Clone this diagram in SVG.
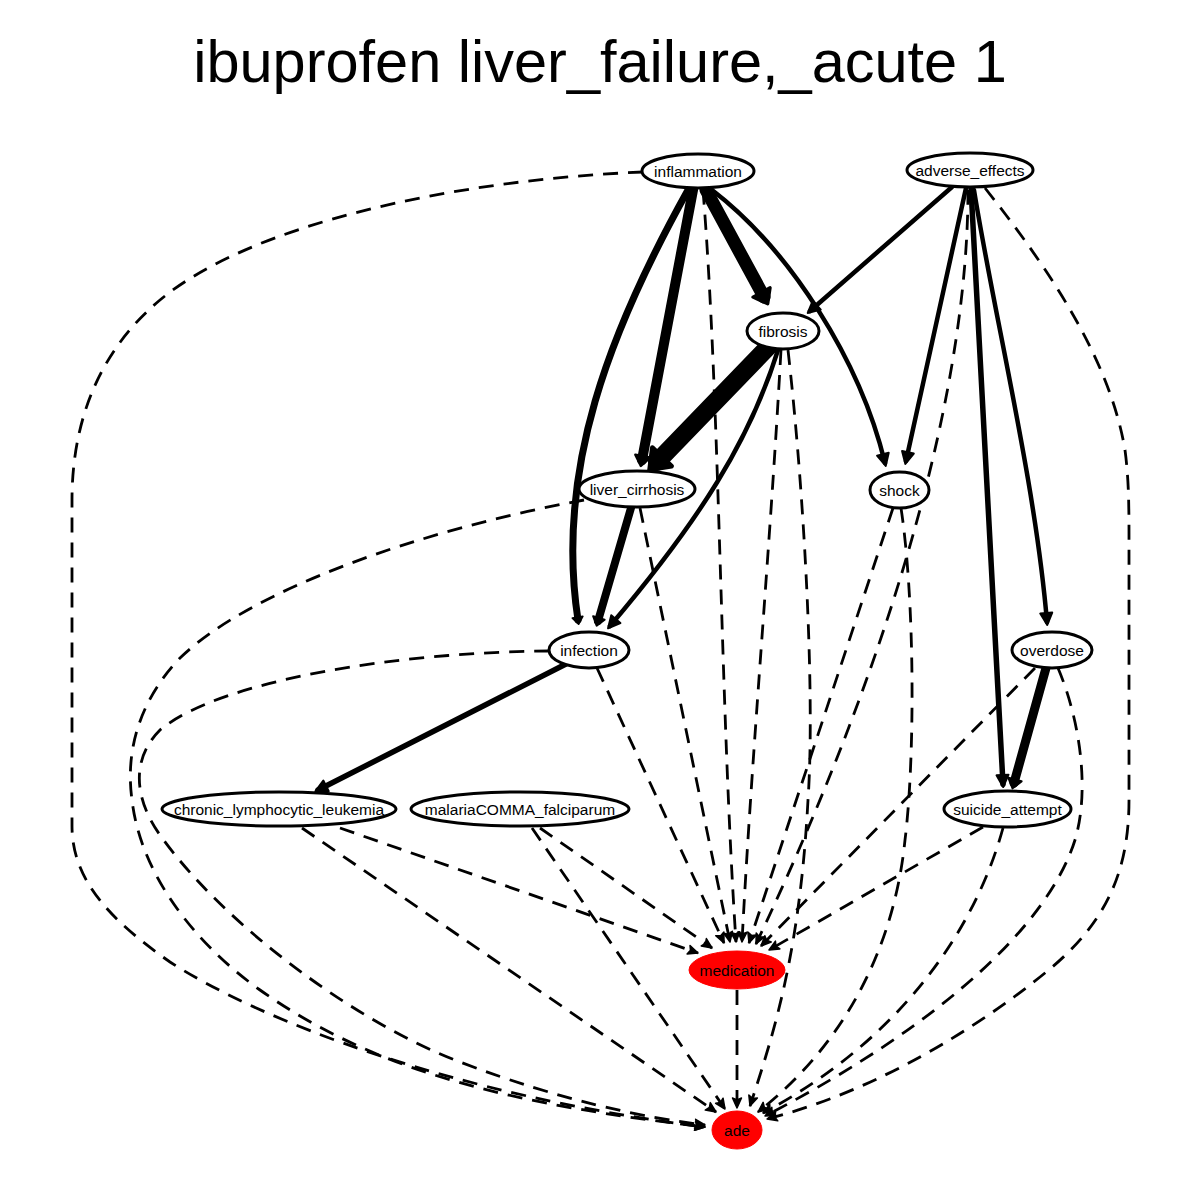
<svg xmlns="http://www.w3.org/2000/svg" width="1200" height="1200" viewBox="0 0 1200 1200">
<style>
text{font-family:"Liberation Sans",Arial,sans-serif;fill:#000;text-anchor:middle}
.lbl{font-size:15.5px}
.title{font-size:59.5px}
.n ellipse{fill:#fff;stroke:#000;stroke-width:3}
.r ellipse{fill:#f00;stroke:#f00;stroke-width:1}
.s{fill:none;stroke:#000;stroke-linecap:round;stroke-linejoin:round}
.d{fill:none;stroke:#000;stroke-width:2.8;stroke-dasharray:15 10}
</style>
<defs>
<marker id="ad" markerUnits="userSpaceOnUse" markerWidth="14" markerHeight="14" refX="10" refY="5" orient="auto" overflow="visible"><path d="M0,0.5 L10,5 L0,9.5 L2,5 z" fill="#000" stroke="#000" stroke-width="1.5" stroke-linejoin="round"/></marker>
<marker id="am" markerUnits="userSpaceOnUse" markerWidth="16" markerHeight="16" refX="9" refY="6" orient="auto" overflow="visible"><path d="M0,0 L12,6 L0,12 z" fill="#000" stroke="#000" stroke-width="2" stroke-linejoin="round"/></marker>
<marker id="at" markerUnits="strokeWidth" markerWidth="3" markerHeight="3" refX="0.4" refY="1" orient="auto" overflow="visible"><path d="M0,0.25 L1,1 L0,1.75 z" fill="#000" stroke="#000" stroke-width="0.25" stroke-linejoin="round"/></marker>
</defs>
<text class="title" x="600" y="82">ibuprofen liver_failure,_acute 1</text>
<g id="connectors">
<path class="d" marker-end="url(#ad)" d="M643,172 C450,180 250,225 160,300 C100,350 72,420 72,500 L72,826 C72,880 110,920 170,962 C260,1020 450,1095 705,1127"/>
<path class="d" marker-end="url(#ad)" d="M584,500 C420,530 250,590 180,658 C140,700 125,750 132,800 C140,870 190,940 260,990 C380,1075 520,1105 705,1127"/>
<path class="d" marker-end="url(#ad)" d="M549,651 C400,652 220,680 160,730 C130,760 135,800 160,835 C220,920 350,1020 460,1062 C560,1100 640,1117 705,1125"/>
<path class="d" marker-end="url(#ad)" d="M985,188 C1050,270 1110,360 1125,450 C1129,480 1129,510 1129,540 L1129,800 C1129,880 1100,930 1040,977 C980,1025 880,1090 767,1119"/>
<path class="d" marker-end="url(#ad)" d="M1058,668 C1080,720 1090,790 1075,840 C1050,920 950,1020 765,1116"/>
<path class="d" marker-end="url(#ad)" d="M1003,828 C975,930 900,1040 763,1113"/>
<path class="d" marker-end="url(#ad)" d="M901,508 C915,600 915,760 905,840 C895,940 850,1040 758,1112"/>
<path class="d" marker-end="url(#ad)" d="M788,350 C805,500 815,700 808,800 C800,950 775,1030 750,1106"/>
<path class="d" marker-end="url(#ad)" d="M302,828 L716,1112"/>
<path class="d" marker-end="url(#ad)" d="M532,828 L725,1109"/>
<path class="d" marker-end="url(#ad)" d="M737,990 L737,1108"/>
<path class="d" marker-end="url(#ad)" d="M340,828 L698,953"/>
<path class="d" marker-end="url(#ad)" d="M540,828 L712,948"/>
<path class="d" marker-end="url(#ad)" d="M597,668 L724,943"/>
<path class="d" marker-end="url(#ad)" d="M640,508 L730,942"/>
<path class="d" marker-end="url(#ad)" d="M703,190 C720,400 720,700 736,942"/>
<path class="d" marker-end="url(#ad)" d="M781,350 C770,550 752,750 742,942"/>
<path class="d" marker-end="url(#ad)" d="M893,508 L749,943"/>
<path class="d" marker-end="url(#ad)" d="M968,190 C968,380 900,640 756,944"/>
<path class="d" marker-end="url(#ad)" d="M1035,668 L761,946"/>
<path class="d" marker-end="url(#ad)" d="M983,827 L769,950"/>
<path class="s" stroke-width="13" marker-end="url(#at)" d="M706,190 L764,297"/>
<path class="s" stroke-width="10" marker-end="url(#at)" d="M693,190 L642,460"/>
<path class="s" stroke-width="7" marker-end="url(#at)" d="M688,190 C610,330 555,470 578,620"/>
<path class="s" stroke-width="4.5" marker-end="url(#am)" d="M712,190 C790,250 860,360 885,463"/>
<path class="s" stroke-width="18" marker-end="url(#at)" d="M770,345 L657,462"/>
<path class="s" stroke-width="4.5" marker-end="url(#am)" d="M778,350 C750,440 700,520 610,626"/>
<path class="s" stroke-width="8" marker-end="url(#at)" d="M631,508 L598,621"/>
<path class="s" stroke-width="4.5" marker-end="url(#am)" d="M952,187 L810,311"/>
<path class="s" stroke-width="4.5" marker-end="url(#am)" d="M966,188 L906,461"/>
<path class="s" stroke-width="5.5" marker-end="url(#am)" d="M971,188 L1003,784"/>
<path class="s" stroke-width="4.5" marker-end="url(#am)" d="M974,190 C995,320 1035,480 1047,622"/>
<path class="s" stroke-width="9" marker-end="url(#at)" d="M1046,668 L1014,783"/>
<path class="s" stroke-width="5.5" marker-end="url(#am)" d="M566,664 L318,790"/>
</g>
<g id="node-inflammation" class="n"><ellipse cx="698" cy="171" rx="56" ry="17"/><text class="lbl" x="698" y="176.5">inflammation</text></g>
<g id="node-adverse_effects" class="n"><ellipse cx="970" cy="170" rx="63" ry="17"/><text class="lbl" x="970" y="175.5">adverse_effects</text></g>
<g id="node-fibrosis" class="n"><ellipse cx="783" cy="331" rx="36" ry="18"/><text class="lbl" x="783" y="336.5">fibrosis</text></g>
<g id="node-liver_cirrhosis" class="n"><ellipse cx="637" cy="489" rx="58" ry="18"/><text class="lbl" x="637" y="494.5">liver_cirrhosis</text></g>
<g id="node-shock" class="n"><ellipse cx="899.5" cy="490" rx="29.5" ry="18"/><text class="lbl" x="899.5" y="495.5">shock</text></g>
<g id="node-infection" class="n"><ellipse cx="589" cy="650" rx="40" ry="18"/><text class="lbl" x="589" y="655.5">infection</text></g>
<g id="node-overdose" class="n"><ellipse cx="1052" cy="650" rx="40" ry="18"/><text class="lbl" x="1052" y="655.5">overdose</text></g>
<g id="node-chronic_lymphocytic_leukemia" class="n"><ellipse cx="279" cy="809" rx="117" ry="17"/><text class="lbl" x="279" y="814.5">chronic_lymphocytic_leukemia</text></g>
<g id="node-malariaCOMMA_falciparum" class="n"><ellipse cx="520" cy="809" rx="109" ry="17"/><text class="lbl" x="520" y="814.5">malariaCOMMA_falciparum</text></g>
<g id="node-suicide_attempt" class="n"><ellipse cx="1007.5" cy="809" rx="63.5" ry="18"/><text class="lbl" x="1007.5" y="814.5">suicide_attempt</text></g>
<g id="node-medication" class="r"><ellipse cx="737" cy="970" rx="48" ry="19"/><text class="lbl" x="737" y="975.5">medication</text></g>
<g id="node-ade" class="r"><ellipse cx="737" cy="1130" rx="25" ry="19"/><text class="lbl" x="737" y="1135.5">ade</text></g>
</svg>
